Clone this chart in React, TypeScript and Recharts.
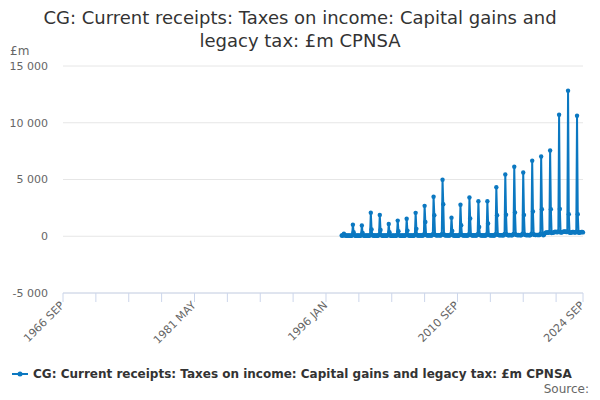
import { LineChart, Line, XAxis, YAxis, CartesianGrid } from "recharts";

const BLUE = "#0b78c1";
const FONT = "'DejaVu Sans', Verdana, sans-serif";

const TITLE_1 = "CG: Current receipts: Taxes on income: Capital gains and";
const TITLE_2 = "legacy tax: £m CPNSA";
const SERIES_NAME = "CG: Current receipts: Taxes on income: Capital gains and legacy tax: £m CPNSA";

// x is a month index, 0 = 1966 SEP
const xTicks = [0, 44, 88, 132, 176, 220, 264, 308, 352, 396, 440, 484, 528, 572, 616, 660, 696];
const xTickLabels: Record<number, string> = {
  0: "1966 SEP",
  176: "1981 MAY",
  352: "1996 JAN",
  528: "2010 SEP",
  696: "2024 SEP",
};
const yTicks = [-5000, 0, 5000, 10000, 15000];

// first value is 1997 OCT
const firstMonth = 373;

// £m, monthly, one row per calendar year (Jan..Dec)
const receipts = [
  60, 45, 110, // 1997 Oct-Dec
  220, 90, 60, 70, 50, 40, 60, 70, 50, 40, 50, 90, // 1998
  1020, 350, 80, 60, 50, 40, 70, 60, 50, 40, 50, 100, // 1999
  950, 300, 70, 60, 50, 40, 60, 60, 50, 40, 50, 110, // 2000
  2080, 600, 90, 60, 60, 50, 70, 60, 50, 50, 60, 130, // 2001
  1880, 550, 80, 60, 50, 50, 70, 60, 50, 50, 60, 120, // 2002
  1080, 350, 70, 50, 50, 40, 60, 50, 50, 40, 50, 110, // 2003
  1380, 450, 80, 60, 50, 50, 60, 60, 50, 50, 60, 120, // 2004
  1540, 500, 80, 60, 60, 50, 70, 60, 50, 50, 60, 130, // 2005
  2060, 650, 90, 70, 60, 60, 80, 70, 60, 60, 70, 150, // 2006
  2680, 1260, 110, 80, 70, 60, 90, 80, 70, 60, 80, 170, // 2007
  3480, 1850, 130, 90, 80, 70, 100, 90, 80, 70, 90, 190, // 2008
  4980, 2820, 150, 90, 80, 70, 90, 80, 70, 60, 80, 150, // 2009
  1640, 470, 90, 70, 60, 50, 70, 60, 50, 50, 60, 140, // 2010
  2780, 970, 110, 80, 70, 60, 80, 70, 60, 60, 70, 160, // 2011
  3420, 1560, 120, 80, 70, 60, 90, 80, 70, 60, 80, 170, // 2012
  3080, 820, 110, 80, 70, 60, 80, 70, 60, 60, 70, 160, // 2013
  3080, 1120, 120, 90, 80, 70, 90, 80, 70, 70, 80, 180, // 2014
  4320, 1850, 140, 100, 90, 80, 100, 90, 80, 80, 90, 200, // 2015
  5450, 1900, 150, 110, 90, 80, 110, 100, 90, 80, 100, 210, // 2016
  6120, 2090, 160, 110, 100, 90, 110, 100, 90, 90, 100, 220, // 2017
  5620, 1880, 160, 110, 100, 90, 110, 100, 90, 90, 100, 220, // 2018
  6660, 2180, 170, 120, 110, 100, 120, 110, 100, 100, 110, 230, // 2019
  7030, 2380, 180, 90, 150, 260, 310, 330, 320, 340, 310, 380, // 2020
  7560, 2380, 290, 300, 320, 340, 380, 400, 360, 380, 350, 420, // 2021
  10700, 2400, 340, 330, 360, 380, 410, 420, 390, 400, 360, 430, // 2022
  12830, 1940, 320, 300, 330, 350, 380, 370, 340, 350, 320, 400, // 2023
  10620, 1940, 330, 310, 340, 360, 380, 370, 340, // 2024 Jan-Sep
];

const data = receipts.map((v, i) => ({ m: firstMonth + i, v }));

const fmtThousands = (n: number) => {
  const s = Math.abs(n).toString().replace(/\B(?=(\d{3})+(?!\d))/g, " ");
  return n < 0 ? `-${s}` : s;
};

function MonthTick(props: any) {
  const { x, y, payload } = props;
  const label = xTickLabels[payload.value];
  if (!label) return <g />;
  const ax = x + 2;
  const ay = y + 2;
  return (
    <text
      x={ax}
      y={ay}
      transform={`rotate(-45 ${ax} ${ay})`}
      textAnchor="end"
      fontSize={11}
      fill="#666666"
    >
      {label}
    </text>
  );
}

export default function App() {
  return (
    <div
      style={{
        position: "absolute",
        left: 0,
        top: 0,
        width: 600,
        height: 400,
        background: "#fff",
        fontFamily: FONT,
      }}
    >
      <div
        style={{
          position: "absolute",
          top: 6,
          left: 0,
          width: 600,
          textAlign: "center",
          fontSize: 18,
          lineHeight: "23px",
          color: "#333333",
        }}
      >
        {TITLE_1}
        <br />
        {TITLE_2}
      </div>
      <div style={{ position: "absolute", left: 10, top: 44, fontSize: 12, color: "#666666" }}>£m</div>

      <LineChart width={600} height={400} data={data} margin={{ top: 66, right: 17, bottom: 0, left: 0 }}>
        <CartesianGrid vertical={false} stroke="#e6e6e6" />
        <XAxis
          dataKey="m"
          type="number"
          domain={[0, 696]}
          ticks={xTicks}
          interval={0}
          tick={<MonthTick />}
          tickSize={9}
          tickLine={{ stroke: "#ccd6eb" }}
          axisLine={{ stroke: "#ccd6eb" }}
          height={107}
        />
        <YAxis
          domain={[-5000, 15000]}
          ticks={yTicks}
          tickFormatter={fmtThousands}
          width={63}
          axisLine={false}
          tickLine={false}
          tickSize={0}
          tickMargin={15}
          tick={{ fontSize: 11, fill: "#666666" }}
        />
        <Line
          type="linear"
          dataKey="v"
          stroke={BLUE}
          strokeWidth={2}
          dot={{ r: 2.2, fill: BLUE, stroke: BLUE, strokeWidth: 0 }}
          isAnimationActive={false}
        />
      </LineChart>

      <div
        style={{
          position: "absolute",
          left: 12,
          top: 366,
          display: "flex",
          alignItems: "center",
          fontSize: 12,
          fontWeight: "bold",
          color: "#333333",
          whiteSpace: "nowrap",
        }}
      >
        <svg width={18} height={16} style={{ marginRight: 3 }}>
          <line x1={0} y1={8} x2={16} y2={8} stroke={BLUE} strokeWidth={2} />
          <circle cx={8} cy={8} r={2.5} fill={BLUE} />
        </svg>
        {SERIES_NAME}
      </div>
      <div style={{ position: "absolute", right: 11, top: 382, fontSize: 12, color: "#666666" }}>Source:</div>
    </div>
  );
}
